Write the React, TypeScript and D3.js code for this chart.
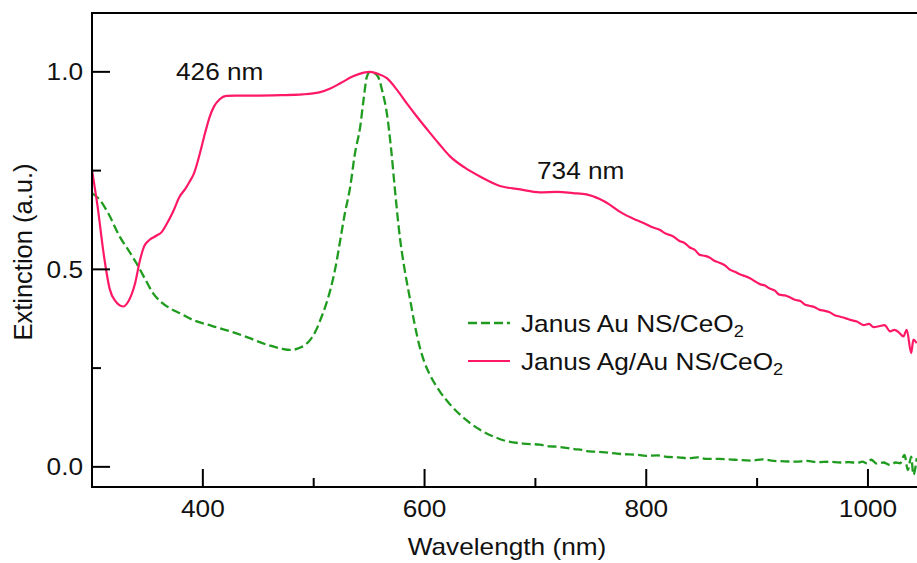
import React from "react";
import * as d3 from "d3";

// Janus Au NS/CeO2 (green, dashed)
const auWavelengths = [
  300, 307, 315, 325, 333, 340, 348, 355, 362, 370, 380, 391, 408, 425, 441, 458, 470, 479, 488, 497,
  502, 506, 511, 515, 520, 524, 528, 533, 537, 542, 545, 548, 551, 554, 558, 562, 566, 570, 573, 578,
  582, 587, 591, 596, 600, 605, 610, 614, 623, 632, 641, 650, 662, 674, 689, 704, 712, 720, 728, 735,
  742, 749, 757, 765, 772, 780, 790, 800, 810, 820, 829, 838, 846, 855, 865, 875, 885, 895, 905, 915,
  925, 935, 945, 955, 965, 975, 983, 990, 995, 999, 1003, 1008, 1014, 1020, 1025, 1029, 1033, 1036, 1039,
  1041, 1044,
];
const auValues = [
  0.693, 0.676, 0.64, 0.583, 0.548, 0.516, 0.475, 0.44, 0.418, 0.402, 0.388, 0.372, 0.357, 0.343, 0.327, 0.309, 0.3, 0.296, 0.302, 0.322,
  0.345, 0.372, 0.41, 0.448, 0.51, 0.575, 0.64, 0.71, 0.79, 0.862, 0.93, 0.988, 1.0, 0.998, 0.988, 0.95, 0.895, 0.8, 0.71, 0.575,
  0.5, 0.423, 0.362, 0.3, 0.264, 0.232, 0.207, 0.19, 0.158, 0.132, 0.111, 0.094, 0.077, 0.065, 0.059, 0.056, 0.052, 0.051, 0.048, 0.045,
  0.043, 0.039, 0.038, 0.036, 0.034, 0.032, 0.031, 0.028, 0.029, 0.025, 0.024, 0.022, 0.024, 0.02, 0.02, 0.019, 0.017, 0.016, 0.019, 0.015,
  0.014, 0.013, 0.015, 0.012, 0.013, 0.011, 0.012, 0.01, 0.013, 0.009, 0.018, 0.008, 0.011, 0.005, 0.011, 0.009, 0.03, -0.008, 0.026,
  -0.02, 0.022,
];

// Janus Ag/Au NS/CeO2 (pink, solid)
const agAuWavelengths = [
  300, 305, 311, 316, 321, 328, 333, 339, 343, 347, 352, 358, 363, 367, 373, 379, 384, 388, 392, 397,
  402, 406, 410, 415, 421, 430, 450, 470, 490, 505, 515, 524, 535, 545, 551, 558, 566, 575, 584, 593,
  603, 613, 623, 636, 650, 668, 685, 704, 720, 734, 746, 758, 767, 776, 791, 798, 805, 812, 818, 824,
  830, 835, 839, 844, 848, 853, 857, 862, 866, 871, 875, 880, 885, 889, 894, 898, 903, 907, 911, 916,
  920, 925, 929, 934, 939, 943, 947, 952, 956, 961, 965, 970, 975, 980, 984, 990, 996, 1001, 1005, 1010,
  1015, 1020, 1024, 1028, 1032, 1035, 1039, 1041, 1044,
];
const agAuValues = [
  0.752, 0.66, 0.53, 0.45, 0.42, 0.406, 0.42, 0.466, 0.52, 0.558, 0.575, 0.585, 0.595, 0.613, 0.645, 0.684, 0.703, 0.722, 0.743, 0.79,
  0.845, 0.885, 0.912, 0.93, 0.939, 0.94, 0.94, 0.941, 0.943, 0.948, 0.958, 0.971, 0.988, 0.998, 1.0, 0.995, 0.984, 0.955, 0.92, 0.887,
  0.852, 0.818, 0.786, 0.758, 0.735, 0.711, 0.703, 0.695, 0.696, 0.693, 0.69, 0.678, 0.664, 0.646, 0.625, 0.617, 0.607, 0.6, 0.59, 0.584,
  0.572, 0.566, 0.556, 0.549, 0.537, 0.534, 0.53, 0.521, 0.517, 0.51, 0.5, 0.494, 0.487, 0.483, 0.477, 0.47, 0.462, 0.459, 0.452, 0.446,
  0.436, 0.434, 0.43, 0.423, 0.42, 0.411, 0.408, 0.404, 0.398, 0.395, 0.392, 0.384, 0.38, 0.376, 0.372, 0.368, 0.359, 0.362, 0.354, 0.356,
  0.359, 0.343, 0.347, 0.34, 0.33, 0.347, 0.288, 0.322, 0.313,
];

const xTicksMajor = [400, 600, 800, 1000];
const xTicksMinor = [500, 700, 900];
const yTicksMajor = [0, 0.5, 1.0];
const yTicksMinor = [0.25, 0.75];

const W = 917;
const H = 563;
const FONT = "'Liberation Sans', Arial, sans-serif";
const GREEN = "#1f9c1f";
const PINK = "#ff1868";

// horizontally stretched label, like the original figure's font
const Txt = ({ x, y, anchor = "start", size = 23, children }: any) => (
  <text
    transform={`translate(${x},${y}) scale(1.14,1)`}
    textAnchor={anchor}
    fontSize={size}
    fontFamily={FONT}
    fill="#111"
  >
    {children}
  </text>
);

export default function App() {
  const x = d3.scaleLinear().domain([300, 1100]).range([92, 978.8]);
  const y = d3.scaleLinear().domain([-0.051, 1.149]).range([487, 13]);

  const au = auWavelengths.map((w, i) => [w, auValues[i]] as [number, number]);
  const agAu = agAuWavelengths.map((w, i) => [w, agAuValues[i]] as [number, number]);

  const line = d3
    .line<[number, number]>()
    .x(d => x(d[0]))
    .y(d => y(d[1]))
    .curve(d3.curveMonotoneX);

  const [x0, x1] = x.range();
  const [y0, y1] = y.range();

  return (
    <svg width={W} height={H} style={{ position: "absolute", left: 0, top: 0, background: "#fff" }}>
      <defs>
        <clipPath id="plot">
          <rect x={x0} y={y1} width={x1 - x0} height={y0 - y1} />
        </clipPath>
      </defs>

      <g clipPath="url(#plot)">
        <path d={line(au) || ""} fill="none" stroke={GREEN} strokeWidth={2.3} strokeDasharray="9,4" />
        <path d={line(agAu) || ""} fill="none" stroke={PINK} strokeWidth={2.2} />
      </g>

      {/* frame */}
      <rect x={x0} y={y1} width={x1 - x0} height={y0 - y1} fill="none" stroke="#000" strokeWidth={2} />

      {/* x ticks */}
      {xTicksMajor.map(t => (
        <g key={"xM" + t}>
          <line x1={x(t)} x2={x(t)} y1={y0} y2={y0 - 18} stroke="#000" strokeWidth={2} />
          <Txt x={x(t)} y={517} anchor="middle">{t}</Txt>
        </g>
      ))}
      {xTicksMinor.map(t => (
        <line key={"xm" + t} x1={x(t)} x2={x(t)} y1={y0} y2={y0 - 9} stroke="#000" strokeWidth={2} />
      ))}

      {/* y ticks */}
      {yTicksMajor.map(t => (
        <g key={"yM" + t}>
          <line x1={x0} x2={x0 + 18} y1={y(t)} y2={y(t)} stroke="#000" strokeWidth={2} />
          <Txt x={83} y={y(t) + 8.3} anchor="end">{t.toFixed(1)}</Txt>
        </g>
      ))}
      {yTicksMinor.map(t => (
        <line key={"ym" + t} x1={x0} x2={x0 + 9} y1={y(t)} y2={y(t)} stroke="#000" strokeWidth={2} />
      ))}

      {/* axis titles */}
      <Txt x={507} y={555} anchor="middle">Wavelength (nm)</Txt>
      <text
        transform="translate(32,252) rotate(-90)"
        textAnchor="middle"
        fontSize={25.5}
        fontFamily={FONT}
        fill="#111"
      >
        Extinction (a.u.)
      </text>

      {/* peak annotations */}
      <Txt x={176} y={80}>426 nm</Txt>
      <Txt x={537} y={179}>734 nm</Txt>

      {/* legend */}
      <line x1={468} x2={510} y1={323} y2={323} stroke={GREEN} strokeWidth={2.3} strokeDasharray="9,4" />
      <Txt x={521} y={331.5}>
        Janus Au NS/CeO<tspan fontSize={16} dy={5}>2</tspan>
      </Txt>
      <line x1={468} x2={510} y1={361} y2={361} stroke={PINK} strokeWidth={2.2} />
      <Txt x={521} y={369.5}>
        Janus Ag/Au NS/CeO<tspan fontSize={16} dy={5}>2</tspan>
      </Txt>
    </svg>
  );
}
